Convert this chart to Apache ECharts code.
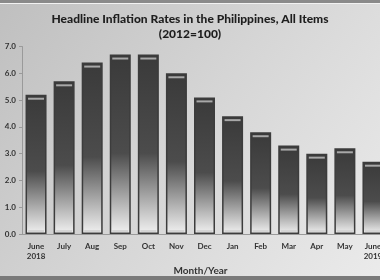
<!DOCTYPE html>
<html><head><meta charset="utf-8">
<script src="https://cdn.jsdelivr.net/npm/echarts@6/dist/echarts.min.js"></script>
<style>html,body{margin:0;padding:0;background:#ccc}#c{width:380px;height:280px}</style>
</head><body><div id="c"></div>
<script>
var categories = ['June\n2018','July','Aug','Sep','Oct','Nov','Dec','Jan','Feb','Mar','Apr','May','June\n2019'];
var inflation = [5.2, 5.7, 6.4, 6.7, 6.7, 6.0, 5.1, 4.4, 3.8, 3.3, 3.0, 3.2, 2.7];
var yTicks = [0, 1, 2, 3, 4, 5, 6, 7];

var chart = echarts.init(document.getElementById('c'));
var FONT = 'Lato, "Open Sans", sans-serif';
chart.setOption({
  animation: false,
  backgroundColor: new echarts.graphic.LinearGradient(0, 0, 1, 1, [
    {offset: 0, color: '#bfbfbf'}, {offset: 0.5, color: '#d6d6d6'}, {offset: 1, color: '#ebebeb'}
  ]),
  title: {
    text: 'Headline Inflation Rates in the Philippines, All Items\n(2012=100)',
    left: 'center', top: 7,
    textStyle: {fontFamily: FONT, fontSize: 12, fontWeight: 900, color: '#1e1e1e', lineHeight: 15}
  },
  graphic: [
    {type: 'rect', shape: {x: 0, y: 0, width: 380, height: 3}, style: {fill: '#8a8a8a'}},
    {type: 'rect', shape: {x: 0, y: 3, width: 380, height: 1}, style: {fill: '#f2f2f2'}},
    {type: 'rect', shape: {x: 0, y: 276, width: 380, height: 4}, style: {fill: '#7a7a7a'}}
  ],
  grid: {left: 22, width: 365, top: 46.5, bottom: 46, outerBoundsMode: 'none', containLabel: false},
  xAxis: {
    type: 'category', data: categories,
    name: 'Month/Year', nameLocation: 'middle', nameGap: 32,
    nameTextStyle: {fontFamily: FONT, fontSize: 10, fontWeight: 'bold', color: '#333', padding: [0, 8, 0, 0]},
    axisLine: {lineStyle: {color: '#9a9a9a'}},
    axisTick: {show: false},
    axisLabel: {fontFamily: FONT, fontSize: 8, fontWeight: 'bold', color: '#333', margin: 7, lineHeight: 10, interval: 0}
  },
  yAxis: {
    type: 'value', min: yTicks[0], max: yTicks[yTicks.length - 1], interval: 1,
    axisLine: {show: true, lineStyle: {color: '#9a9a9a'}},
    axisTick: {show: true, length: 3, lineStyle: {color: '#9a9a9a'}},
    splitLine: {show: false},
    axisLabel: {fontFamily: FONT, fontSize: 8, fontWeight: 'bold', color: '#333', margin: 6,
      formatter: function (v) { return v.toFixed(1); }}
  },
  series: [{
    type: 'bar', data: inflation, barWidth: 21,
    itemStyle: {
      color: new echarts.graphic.LinearGradient(0, 0, 0, 1, [
        {offset: 0, color: '#3a3a3a'}, {offset: 0.55, color: '#4c4c4c'},
        {offset: 0.85, color: '#bcbcbc'}, {offset: 1, color: '#f2f2f2'}
      ]),
      borderColor: '#3c3c3c', borderWidth: 1.5
    }
  }, {
    type: 'custom', data: inflation, z: 5, silent: true,
    renderItem: function (params, api) {
      var p = api.coord([api.value(0), api.value(1)]);
      var base = api.coord([api.value(0), 0]);
      return {type: 'group', children: [
        {type: 'rect', shape: {x: p[0] - 8, y: p[1] + 3, width: 16, height: 2}, style: {fill: '#a8a8a8'}},
        {type: 'rect', shape: {x: p[0] - 8, y: base[1] - 4, width: 16, height: 2}, style: {fill: '#d4d4d4'}}
      ]};
    },
    encode: {x: 0, y: 1}
  }]
});
</script></body></html>
